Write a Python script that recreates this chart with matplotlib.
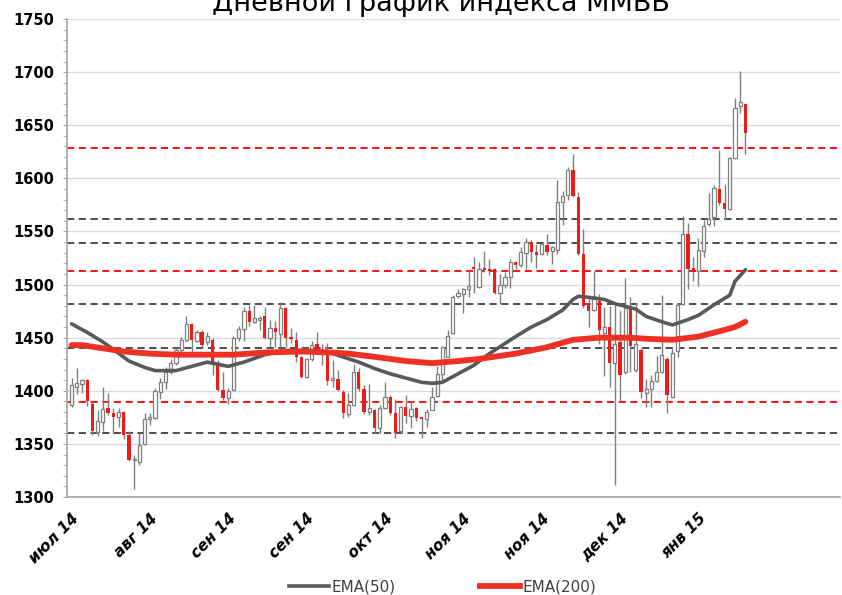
import matplotlib.pyplot as plt
from matplotlib.lines import Line2D
import numpy as np

# daily candles (open, high, low, close)
opens = [1387, 1404, 1406, 1410, 1388, 1361, 1371, 1384, 1379, 1375,
         1380, 1358, 1335, 1333, 1350, 1373, 1374, 1399, 1408, 1418,
         1426, 1438, 1448, 1463, 1447, 1455, 1446, 1448, 1424, 1401,
         1393, 1401, 1450, 1458, 1475, 1465, 1467, 1470, 1450, 1459,
         1453, 1478, 1451, 1448, 1432, 1413, 1430, 1444, 1439, 1437,
         1410, 1411, 1399, 1378, 1387, 1418, 1402, 1380, 1382, 1365,
         1384, 1394, 1379, 1362, 1385, 1376, 1384, 1375, 1373, 1382,
         1395, 1416, 1432, 1454, 1489, 1491, 1496, 1517, 1498, 1516,
         1515, 1515, 1492, 1500, 1507, 1521, 1518, 1530, 1540, 1531,
         1529, 1537, 1532, 1533, 1578, 1584, 1608, 1582, 1529, 1482,
         1476, 1485, 1454, 1460, 1426, 1446, 1418, 1478, 1420, 1438,
         1398, 1402, 1409, 1418, 1430, 1394, 1437, 1482, 1548, 1516,
         1513, 1532, 1557, 1564, 1590, 1577, 1571, 1619, 1668, 1670]
highs = [1412, 1421, 1411, 1411, 1389, 1382, 1404, 1398, 1384, 1384,
         1381, 1362, 1340, 1360, 1379, 1379, 1403, 1412, 1422, 1430,
         1441, 1451, 1470, 1464, 1457, 1457, 1455, 1450, 1429, 1418,
         1403, 1452, 1461, 1479, 1481, 1481, 1470, 1479, 1467, 1466,
         1484, 1479, 1459, 1455, 1433, 1431, 1447, 1455, 1444, 1445,
         1429, 1420, 1401, 1398, 1425, 1421, 1405, 1406, 1383, 1387,
         1408, 1396, 1392, 1386, 1396, 1390, 1385, 1375, 1383, 1404,
         1423, 1442, 1457, 1490, 1496, 1497, 1514, 1526, 1521, 1532,
         1524, 1516, 1510, 1512, 1524, 1522, 1535, 1544, 1542, 1538,
         1539, 1548, 1536, 1598, 1588, 1611, 1623, 1587, 1552, 1489,
         1513, 1491, 1479, 1480, 1481, 1476, 1506, 1488, 1483, 1440,
         1411, 1415, 1433, 1490, 1432, 1441, 1483, 1565, 1558, 1526,
         1544, 1561, 1586, 1594, 1627, 1595, 1620, 1676, 1701, 1671]
lows = [1385, 1397, 1398, 1386, 1358, 1357, 1362, 1377, 1360, 1366,
        1355, 1334, 1308, 1330, 1349, 1368, 1373, 1392, 1402, 1416,
        1424, 1436, 1446, 1435, 1446, 1440, 1443, 1415, 1400, 1391,
        1388, 1400, 1447, 1447, 1461, 1464, 1457, 1449, 1441, 1441,
        1441, 1441, 1445, 1427, 1412, 1412, 1428, 1437, 1424, 1405,
        1404, 1400, 1374, 1375, 1386, 1400, 1378, 1377, 1360, 1360,
        1383, 1377, 1356, 1360, 1370, 1365, 1372, 1356, 1366, 1382,
        1394, 1409, 1432, 1453, 1487, 1473, 1488, 1492, 1497, 1512,
        1509, 1491, 1482, 1497, 1497, 1515, 1517, 1515, 1521, 1516,
        1528, 1528, 1519, 1529, 1556, 1580, 1582, 1528, 1478, 1460,
        1475, 1444, 1414, 1404, 1311, 1390, 1416, 1418, 1418, 1393,
        1385, 1385, 1408, 1417, 1379, 1393, 1432, 1481, 1496, 1503,
        1499, 1526, 1555, 1555, 1575, 1562, 1570, 1618, 1662, 1623]
closes = [1405, 1407, 1410, 1390, 1362, 1372, 1383, 1379, 1375, 1380,
          1358, 1335, 1336, 1349, 1373, 1375, 1400, 1408, 1418, 1426,
          1438, 1448, 1463, 1448, 1455, 1443, 1452, 1424, 1401, 1393,
          1400, 1450, 1458, 1475, 1465, 1469, 1469, 1450, 1459, 1455,
          1478, 1450, 1449, 1432, 1413, 1430, 1443, 1438, 1438, 1409,
          1412, 1401, 1379, 1387, 1418, 1402, 1380, 1384, 1365, 1384,
          1394, 1379, 1360, 1385, 1376, 1383, 1374, 1373, 1380, 1394,
          1416, 1441, 1452, 1488, 1492, 1496, 1499, 1515, 1515, 1514,
          1513, 1492, 1500, 1507, 1521, 1518, 1531, 1540, 1531, 1528,
          1538, 1531, 1535, 1578, 1583, 1608, 1583, 1529, 1480, 1475,
          1488, 1457, 1460, 1426, 1444, 1415, 1478, 1442, 1444, 1399,
          1402, 1409, 1418, 1434, 1396, 1436, 1481, 1548, 1515, 1512,
          1533, 1555, 1562, 1591, 1577, 1571, 1619, 1666, 1672, 1643]

# moving averages, sampled along the curves
ema50_idx = [0, 3, 6, 8, 11, 14, 16, 20, 23, 26, 30, 33, 37, 41, 46, 50,
             55, 58, 61, 64, 67, 69, 71, 74, 77, 80, 85, 88, 91, 94, 96,
             97, 99, 102, 104, 108, 110, 113, 115, 118, 120, 123, 126, 127, 129]
ema50 = [1463, 1455, 1446, 1439, 1428, 1422, 1419, 1419, 1423, 1427, 1423,
         1427, 1434, 1438, 1438, 1435, 1427, 1421, 1416, 1412, 1408, 1407,
         1408, 1416, 1424, 1435, 1451, 1460, 1467, 1476, 1486, 1489, 1488,
         1486, 1482, 1477, 1470, 1465, 1462, 1467, 1471, 1481, 1490, 1503, 1514]
ema200_idx = [0, 2, 6, 10, 15, 20, 26, 31, 37, 44, 50, 53, 58, 64, 69, 74,
              78, 85, 91, 96, 101, 107, 110, 115, 120, 124, 127, 129]
ema200 = [1443, 1443, 1440, 1437, 1435, 1434, 1434, 1434, 1436, 1437, 1436,
          1435, 1432, 1428, 1426, 1428, 1430, 1435, 1441, 1448, 1450, 1450,
          1449, 1448, 1451, 1456, 1460, 1465]

# support / resistance levels
red_levels = [1629, 1513, 1389]
black_levels = [1562, 1539, 1482, 1440, 1360]

tick_pos = [0, 15, 30, 45, 60, 75, 90, 105, 120]
tick_labels = ["июл 14", "авг 14", "сен 14", "сен 14", "окт 14",
               "ноя 14", "ноя 14", "дек 14", "янв 15"]

GREY = "#7f7f7f"
RED = "#ec1c18"

fig = plt.figure(figsize=(8.42, 5.95), dpi=100)
ax = fig.add_axes([0.0796, 0.1647, 0.918, 0.8033])

x = np.arange(len(opens))
o = np.array(opens, float)
c = np.array(closes, float)
up = c >= o

ax.vlines(x, lows, highs, color=GREY, lw=1.0, zorder=3)
h = np.maximum(np.abs(c - o), 1.0)
bot = np.minimum(o, c)
ax.bar(x[up], h[up], bottom=bot[up], width=0.62, facecolor="white",
       edgecolor=GREY, lw=0.9, zorder=4)
ax.bar(x[~up], h[~up], bottom=bot[~up], width=0.62, color=RED, lw=0, zorder=4)

ax.plot(ema50_idx, ema50, color="#595959", lw=2.6, zorder=5, solid_capstyle="round")
ax.plot(ema200_idx, ema200, color="#ee3124", lw=4.2, zorder=5, solid_capstyle="round")

for lv in black_levels:
    ax.axhline(lv, color="#404040", lw=1.3, ls=(0, (4, 2.5)), zorder=2)
for lv in red_levels:
    ax.axhline(lv, color="#ff0000", lw=1.3, ls=(0, (4, 2.5)), zorder=2)

ax.set_ylim(1300, 1750)
ax.set_xlim(-0.86, 147.1)
ax.set_yticks(np.arange(1300, 1751, 50))
ax.set_yticks(np.arange(1300, 1751, 10), minor=True)
ax.yaxis.grid(True, color="#d3dde9", lw=1.0, zorder=0)
ax.set_axisbelow(True)
ax.tick_params(axis="y", which="both", length=3, color="#a6a6a6", pad=6)
for t in ax.get_yticklabels():
    t.set_fontweight("bold")
    t.set_fontsize(10.5)

ax.set_xticks(tick_pos)
ax.set_xticklabels(tick_labels, rotation=45, ha="right", va="top",
                   rotation_mode="anchor", fontsize=11,
                   fontweight="bold", fontstyle="italic")
ax.tick_params(axis="x", length=0, pad=10)

for s in ["top", "right"]:
    ax.spines[s].set_visible(False)
for s in ["left", "bottom"]:
    ax.spines[s].set_color("#a6a6a6")
    ax.spines[s].set_linewidth(1.2)

# title sits partly above the top edge, as in the source image
fig.text(0.524, 1 - 11 / 595, "Дневной график индекса ММВБ",
         ha="center", va="baseline", fontsize=19.5)

handles = [Line2D([], [], color="#595959", lw=2.6),
           Line2D([], [], color="#ee3124", lw=4.2)]
fig.legend(handles, ["EMA(50)", "EMA(200)"], loc="center",
           bbox_to_anchor=(0.526, 0.014), ncol=2, frameon=False,
           fontsize=11, handlelength=2.6, handletextpad=0.2,
           columnspacing=5.5, labelcolor="#404040")

fig.savefig("out.png", dpi=100)
